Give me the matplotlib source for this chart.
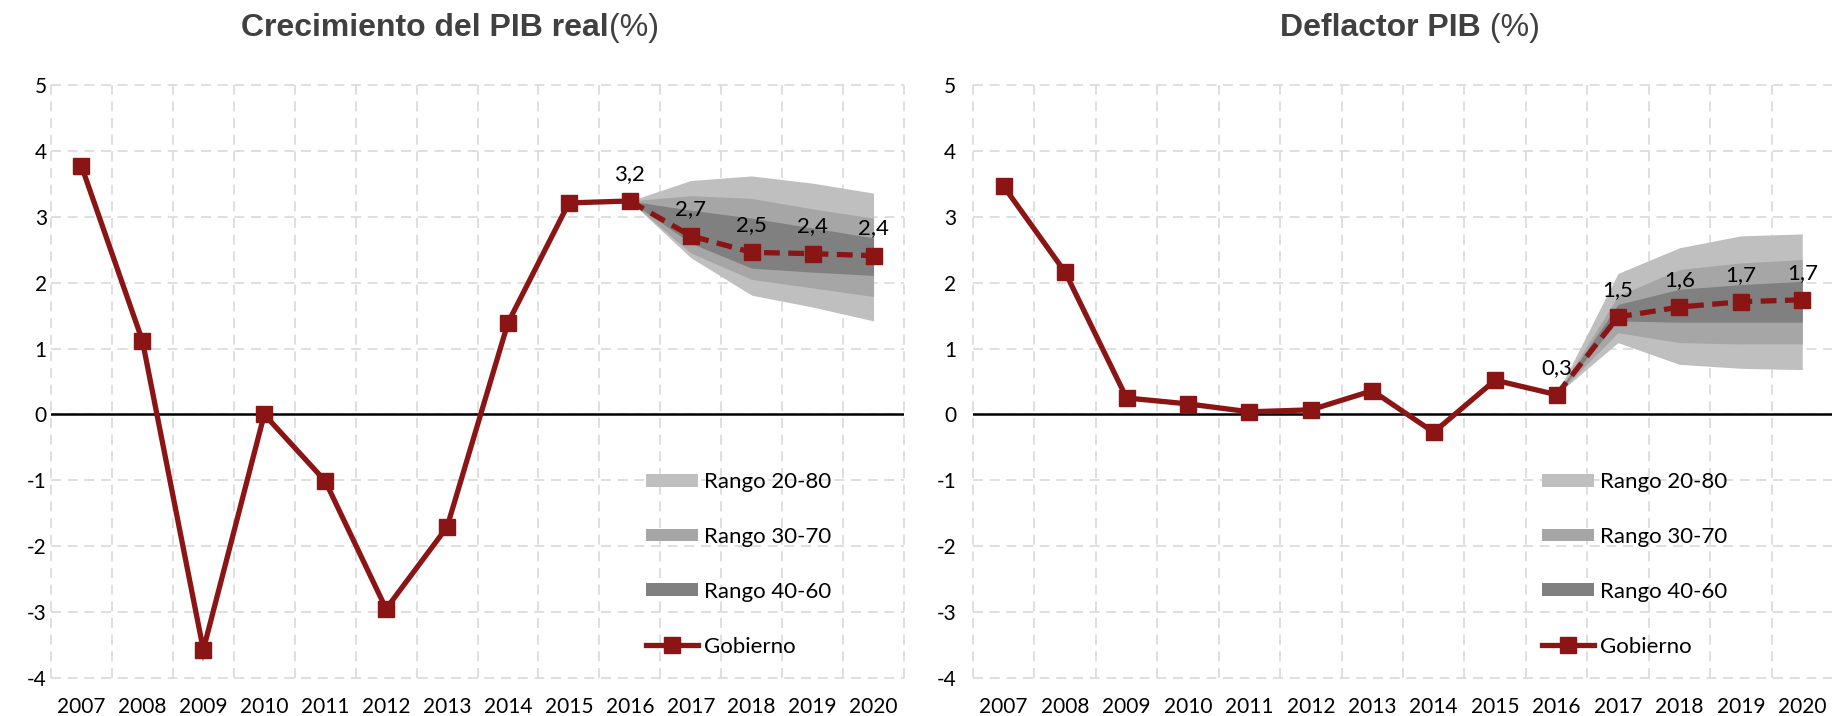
import matplotlib
matplotlib.use("Agg")
import matplotlib.pyplot as plt
from matplotlib.patches import Patch
from matplotlib.lines import Line2D
from matplotlib import font_manager

years = ['2007', '2008', '2009', '2010', '2011', '2012', '2013',
         '2014', '2015', '2016', '2017', '2018', '2019', '2020']

# Crecimiento del PIB real (%)
pib = [3.77, 1.12, -3.57, 0.0, -1.01, -2.95, -1.71, 1.39, 3.21, 3.24,
       2.71, 2.46, 2.44, 2.41]
# fan 2016-2020
pib_p20 = [3.24, 2.38, 1.81, 1.63, 1.42]
pib_p30 = [3.24, 2.45, 2.05, 1.92, 1.79]
pib_p40 = [3.24, 2.60, 2.22, 2.16, 2.11]
pib_p60 = [3.24, 3.10, 2.98, 2.83, 2.68]
pib_p70 = [3.24, 3.32, 3.28, 3.12, 2.98]
pib_p80 = [3.24, 3.55, 3.62, 3.51, 3.36]

# Deflactor PIB (%)
defl = [3.46, 2.16, 0.25, 0.16, 0.04, 0.07, 0.36, -0.27, 0.52, 0.30,
        1.48, 1.63, 1.71, 1.74]
defl_p20 = [0.30, 1.09, 0.76, 0.70, 0.68]
defl_p30 = [0.30, 1.24, 1.09, 1.07, 1.07]
defl_p40 = [0.30, 1.42, 1.40, 1.40, 1.40]
defl_p60 = [0.30, 1.67, 1.90, 1.97, 2.02]
defl_p70 = [0.30, 1.80, 2.20, 2.30, 2.35]
defl_p80 = [0.30, 2.14, 2.53, 2.71, 2.74]

legend_labels = ['Rango 20-80', 'Rango 30-70', 'Rango 40-60', 'Gobierno']

RED = '#8B1414'
C80, C70, C60 = '#BFBFBF', '#A6A6A6', '#808080'
GRID = '#D9D9D9'

installed = {f.name for f in font_manager.fontManager.ttflist}
body_font = ['Lato', 'DejaVu Sans']
title_font = ['Liberation Sans Narrow' if 'Liberation Sans Narrow' in installed
              else 'Liberation Sans', 'DejaVu Sans']
plt.rcParams['font.family'] = body_font
plt.rcParams['axes.unicode_minus'] = False

W, H = 1832, 716
fig = plt.figure(figsize=(W / 100, H / 100), dpi=100)
ax1 = fig.add_axes([51 / W, 38 / H, 853 / W, 593 / H])
ax2 = fig.add_axes([973 / W, 38 / H, 860 / W, 593 / H])


def draw_panel(ax, vals, p20, p30, p40, p60, p70, p80, ypad):
    x = list(range(len(years)))
    ax.set_xlim(-0.5, len(years) - 0.5)
    ax.set_ylim(-4, 5)
    for s in ax.spines.values():
        s.set_visible(False)
    ax.set_xticks(x)
    ax.set_xticklabels(years)
    ax.set_yticks(range(-4, 6))
    ax.tick_params(axis='x', length=0, labelsize=15, pad=14)
    ax.tick_params(axis='y', length=0, labelsize=15, pad=ypad)

    # grid
    for yv in range(-4, 6):
        ax.axhline(yv, color=GRID, lw=1.2, ls=(0, (6, 4)), zorder=0, clip_on=False)
    for k in range(len(years) + 1):
        ax.axvline(k - 0.5, color=GRID, lw=1.2, ls=(0, (6, 4)), zorder=0, clip_on=False)
    ax.axhline(0, color='black', lw=1.8, zorder=2)

    # fan chart
    xf = x[9:]
    ax.fill_between(xf, p20, p80, color=C80, lw=0, zorder=1)
    ax.fill_between(xf, p30, p70, color=C70, lw=0, zorder=1)
    ax.fill_between(xf, p40, p60, color=C60, lw=0, zorder=1)

    # government line
    ax.plot(x[:10], vals[:10], color=RED, lw=3.8, marker='s', ms=11,
            solid_joinstyle='miter', zorder=4)
    ax.plot(xf, vals[9:], color=RED, lw=3.8, ls=(0, (3, 1.6)), marker='s', ms=11,
            markevery=list(range(1, 5)), zorder=4)

    for i in range(9, len(years)):
        ax.annotate(f"{vals[i]:.1f}".replace('.', ','), (x[i], vals[i]),
                    xytext=(0, 19.5), textcoords='offset points',
                    ha='center', va='center', fontsize=16, zorder=5)

    handles = [Patch(facecolor=C80, edgecolor='none'),
               Patch(facecolor=C70, edgecolor='none'),
               Patch(facecolor=C60, edgecolor='none'),
               Line2D([], [], color=RED, lw=3.8, marker='s', ms=11)]
    return ax.legend(handles, legend_labels, frameon=False, fontsize=16,
                     handlelength=2.35, handleheight=0.52, handletextpad=0.28,
                     labelspacing=1.57, borderpad=0, borderaxespad=0,
                     loc='upper left')


leg1 = draw_panel(ax1, pib, pib_p20, pib_p30, pib_p40, pib_p60, pib_p70, pib_p80, 3)
leg1.set_bbox_to_anchor(((646 - 51) / 853, (678 - 472) / 593), transform=ax1.transAxes)
leg2 = draw_panel(ax2, defl, defl_p20, defl_p30, defl_p40, defl_p60, defl_p70, defl_p80, 12)
leg2.set_bbox_to_anchor(((1542 - 973) / 860, (678 - 472) / 593), transform=ax2.transAxes)


def two_part_title(xc, yc, bold, normal):
    t1 = fig.text(0, yc, bold, fontsize=23, weight='bold', color='#404040',
                  family=title_font, ha='left', va='center')
    t2 = fig.text(0, yc, normal, fontsize=23, color='#404040',
                  family=title_font, ha='left', va='center')
    fig.canvas.draw()
    r = fig.canvas.get_renderer()
    w1 = t1.get_window_extent(r).width
    w2 = t2.get_window_extent(r).width
    start = xc * W - (w1 + w2) / 2
    t1.set_x(start / W)
    t2.set_x((start + w1) / W)


two_part_title(450 / W, 1 - 28 / H, 'Crecimiento del PIB real', '(%)')
two_part_title(1410 / W, 1 - 28 / H, 'Deflactor PIB', ' (%)')

fig.savefig('out.png', dpi=100)
